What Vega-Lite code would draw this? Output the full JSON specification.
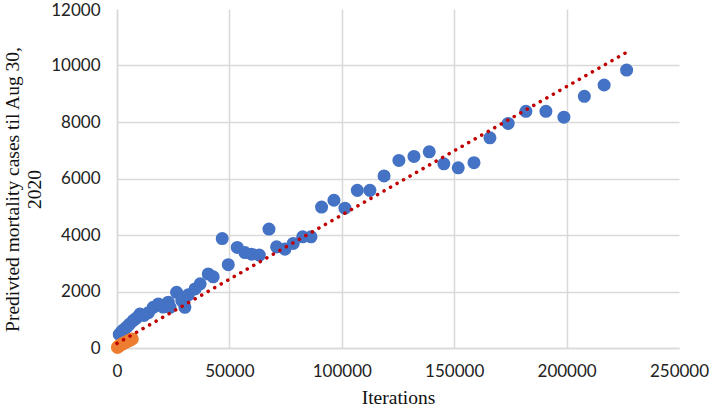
{
  "$schema": "https://vega.github.io/schema/vega-lite/v6.json",
  "autosize": "none",
  "width": 562,
  "height": 339,
  "padding": {"left": 117, "top": 9, "right": 30, "bottom": 62},
  "background": "white",
  "config": {
    "view": {"stroke": null},
    "axis": {
      "labelFont": "Lato",
      "labelFontSize": 17,
      "labelColor": "#222222",
      "titleFont": "Liberation Serif",
      "titleFontSize": 19.5,
      "titleFontWeight": "normal",
      "titleColor": "#111111",
      "ticks": false,
      "labelFlush": false,
      "domainColor": "#d9d9d9",
      "domainWidth": 1.5,
      "gridColor": "#d9d9d9",
      "gridWidth": 1.5
    }
  },
  "datasets": {
    "blue": [
      {"iter": 1000, "cases": 480}, {"iter": 2000, "cases": 580}, {"iter": 3000, "cases": 650},
      {"iter": 4300, "cases": 740}, {"iter": 5500, "cases": 840}, {"iter": 7200, "cases": 970},
      {"iter": 8500, "cases": 1050}, {"iter": 10200, "cases": 1200}, {"iter": 12000, "cases": 1150},
      {"iter": 14000, "cases": 1250}, {"iter": 16100, "cases": 1440}, {"iter": 18400, "cases": 1560},
      {"iter": 20500, "cases": 1450}, {"iter": 22800, "cases": 1620}, {"iter": 23600, "cases": 1440},
      {"iter": 26500, "cases": 1970}, {"iter": 28800, "cases": 1680}, {"iter": 30200, "cases": 1440},
      {"iter": 31700, "cases": 1880}, {"iter": 34700, "cases": 2090}, {"iter": 37000, "cases": 2270},
      {"iter": 40600, "cases": 2620}, {"iter": 42800, "cases": 2520}, {"iter": 46800, "cases": 3875},
      {"iter": 49500, "cases": 2950}, {"iter": 53500, "cases": 3560}, {"iter": 56900, "cases": 3380},
      {"iter": 59900, "cases": 3320}, {"iter": 63300, "cases": 3290}, {"iter": 67600, "cases": 4210},
      {"iter": 71000, "cases": 3580}, {"iter": 74700, "cases": 3500}, {"iter": 78400, "cases": 3700},
      {"iter": 82600, "cases": 3935}, {"iter": 86300, "cases": 3935}, {"iter": 91000, "cases": 4990},
      {"iter": 96500, "cases": 5230}, {"iter": 101400, "cases": 4950}, {"iter": 106900, "cases": 5580},
      {"iter": 112500, "cases": 5580}, {"iter": 118800, "cases": 6090}, {"iter": 125400, "cases": 6640},
      {"iter": 132100, "cases": 6780}, {"iter": 138900, "cases": 6945}, {"iter": 145400, "cases": 6520},
      {"iter": 151800, "cases": 6380}, {"iter": 158800, "cases": 6560}, {"iter": 165900, "cases": 7440},
      {"iter": 174000, "cases": 7950}, {"iter": 181900, "cases": 8380}, {"iter": 190800, "cases": 8380},
      {"iter": 198800, "cases": 8170}, {"iter": 207900, "cases": 8910}, {"iter": 216700, "cases": 9310},
      {"iter": 226700, "cases": 9840}
    ],
    "orange": [
      {"iter": 200, "cases": 20}, {"iter": 500, "cases": 50}, {"iter": 1000, "cases": 80},
      {"iter": 1500, "cases": 100}, {"iter": 2000, "cases": 130}, {"iter": 2500, "cases": 150},
      {"iter": 3000, "cases": 170}, {"iter": 3500, "cases": 190}, {"iter": 4000, "cases": 210},
      {"iter": 4500, "cases": 230}, {"iter": 5000, "cases": 250}, {"iter": 5500, "cases": 270},
      {"iter": 6000, "cases": 290}, {"iter": 6800, "cases": 320}
    ],
    "trend": [
      {"iter": 0, "cases": 160}, {"iter": 226700, "cases": 10467}
    ]
  },
  "layer": [
    {
      "data": {"name": "blue"},
      "mark": {"type": "circle", "size": 170, "color": "#4472C4", "opacity": 1},
      "encoding": {
        "x": {
          "field": "iter", "type": "quantitative",
          "scale": {"domain": [0, 250000], "nice": false},
          "axis": {
            "title": "Iterations",
            "values": [0, 50000, 100000, 150000, 200000, 250000],
            "format": "d",
            "labelPadding": 15,
            "titlePadding": 9,
            "gridOpacity": {"condition": {"test": "datum.value >= 250000", "value": 0}, "value": 1}
          }
        },
        "y": {
          "field": "cases", "type": "quantitative",
          "scale": {"domain": [0, 12000], "nice": false},
          "axis": {
            "title": ["Predivted mortality cases til Aug 30,", "2020"],
            "values": [0, 2000, 4000, 6000, 8000, 10000, 12000],
            "format": "d",
            "labelPadding": 17,
            "labelOffset": {"condition": {"test": "datum.value >= 12000", "value": 1.5}, "value": 0},
            "titlePadding": 6,
            "titleLineHeight": 22,
            "titleY": 180,
            "gridOpacity": {"condition": {"test": "datum.value >= 12000", "value": 0}, "value": 1}
          }
        }
      }
    },
    {
      "data": {"name": "orange"},
      "mark": {"type": "circle", "size": 170, "color": "#ED7D31", "opacity": 1},
      "encoding": {
        "x": {"field": "iter", "type": "quantitative"},
        "y": {"field": "cases", "type": "quantitative"}
      }
    },
    {
      "data": {"name": "trend"},
      "mark": {"type": "line", "color": "#C00000", "strokeWidth": 3.5, "strokeCap": "round", "strokeDash": [0.1, 7.4]},
      "encoding": {
        "x": {"field": "iter", "type": "quantitative"},
        "y": {"field": "cases", "type": "quantitative"}
      }
    }
  ]
}
